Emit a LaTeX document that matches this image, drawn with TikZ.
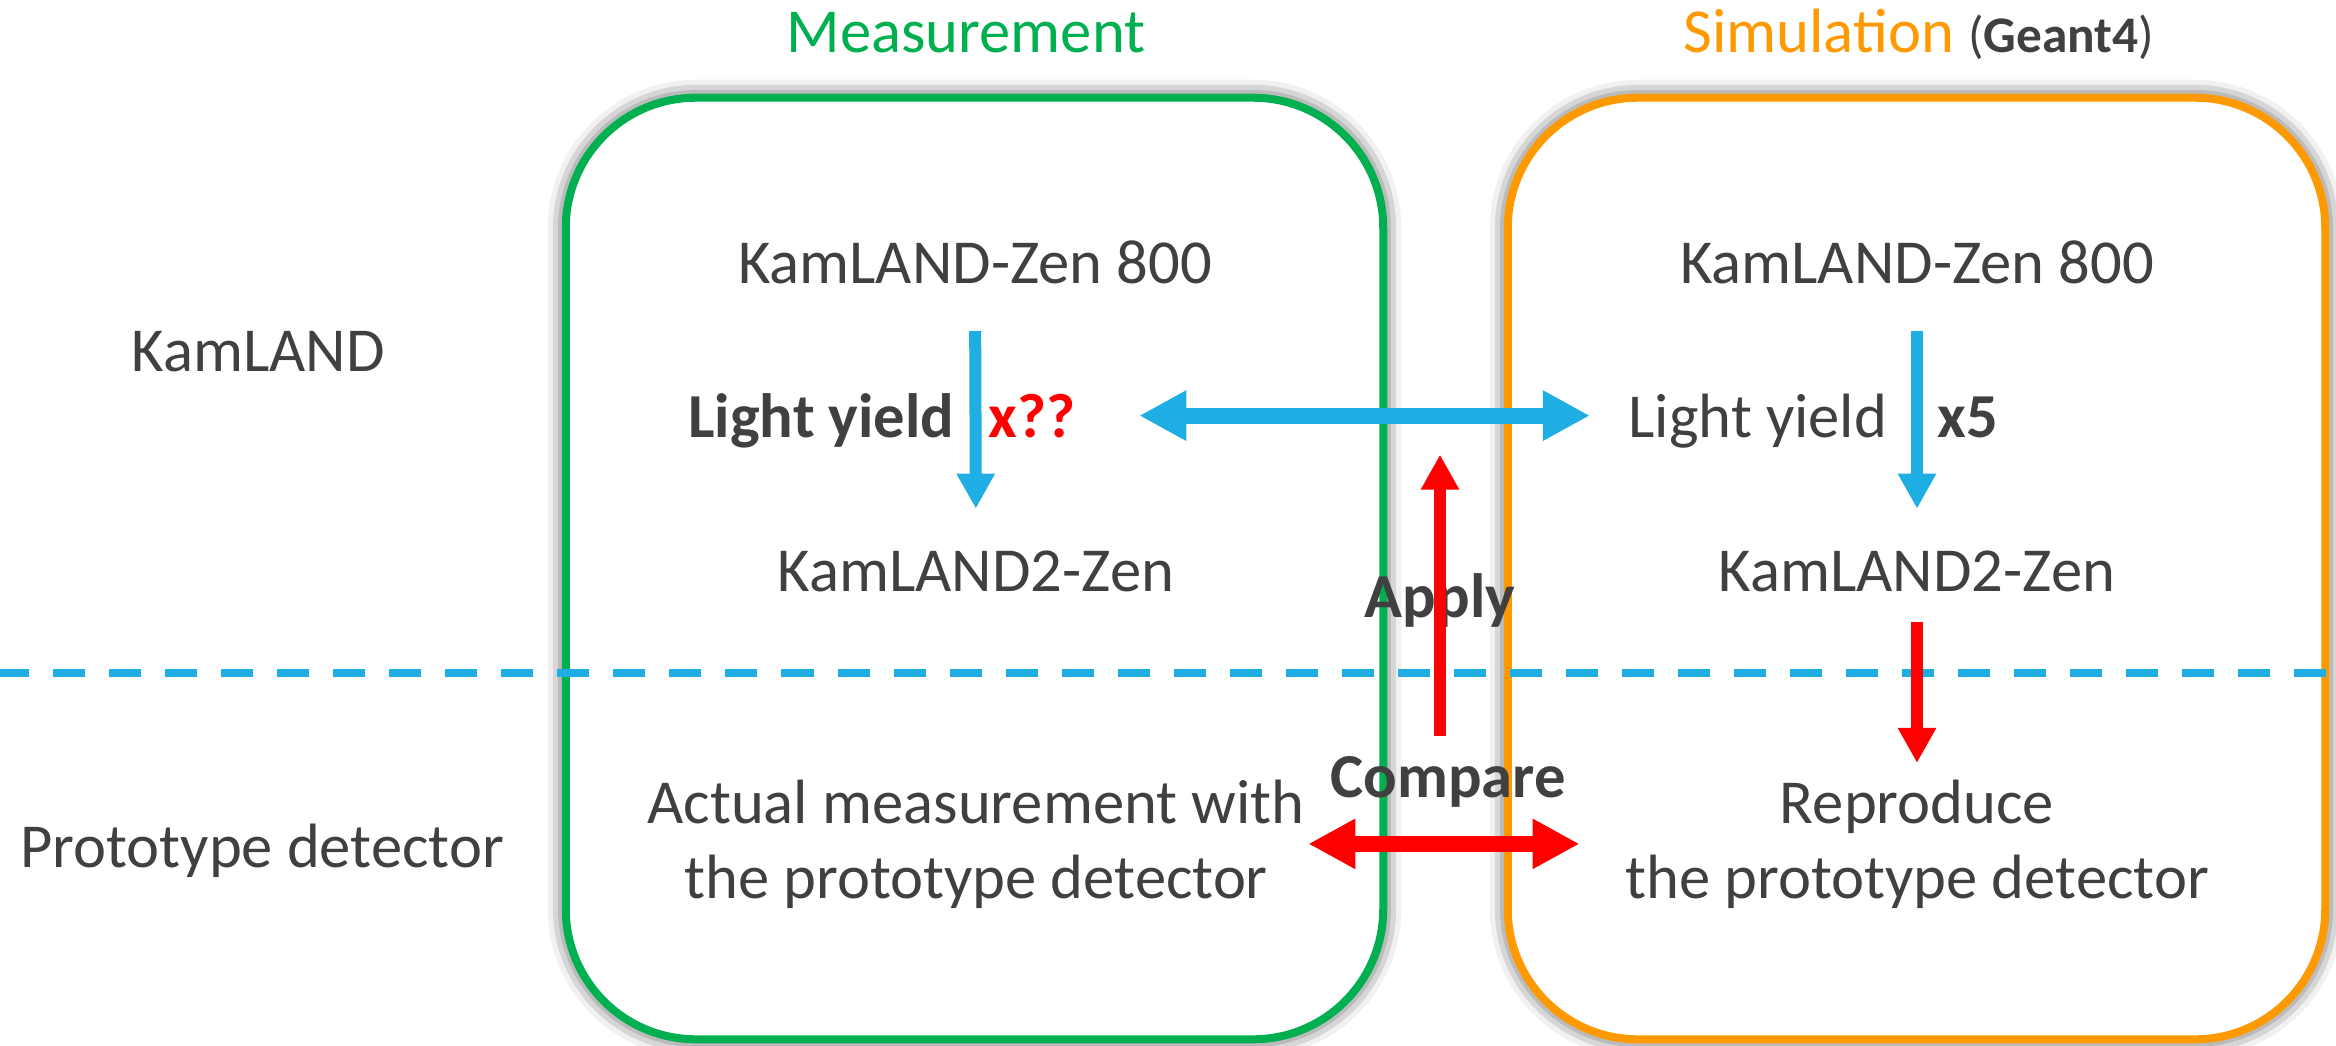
\documentclass[tikz,border=0pt]{standalone}
\usepackage{fontspec}
\setmainfont{Carlito}
\usepackage{tikz}
\usetikzlibrary{arrows.meta,shadows.blur}

\definecolor{mgreen}{RGB}{0,176,80}
\definecolor{sorange}{RGB}{255,153,0}
\definecolor{lblue}{RGB}{31,174,228}
\definecolor{tgray}{RGB}{64,64,64}

\begin{document}
\begin{tikzpicture}[x=0.01cm,y=-0.01cm,
    txt/.style={text=tgray,font=\fontsize{17.8}{21.3}\selectfont,inner sep=0pt,anchor=base,align=center},
    bold/.style={txt,font=\fontsize{17.8}{21.3}\selectfont\bfseries},
    panel/.style={draw=#1,line width=0.08cm,fill=white,rounded corners=1.3cm,
      minimum width=8.17cm,minimum height=9.41cm,inner sep=0pt,
      blur shadow={shadow xshift=0pt,shadow yshift=0pt,shadow blur radius=0.18cm,shadow opacity=85}},
    bigarrow/.style={line width=0.16cm,{Triangle[length=0.47cm,width=0.47cm]}-{Triangle[length=0.47cm,width=0.47cm]}},
    thinarrow/.style={line width=0.12cm,-{Triangle[length=0.35cm,width=0.36cm]}}]
  \useasboundingbox (0,0) rectangle (2336,1045);

  % the two panels
  \node[panel=mgreen] (meas) at (974.5,568.5) {};
  \node[panel=sorange] (simu) at (1916.5,568.5) {};
  \node[txt,text=mgreen] (measT) at (966,52) {Measurement};
  \node[txt] (simuT) at (1919,52)
  {\textcolor{sorange}{Simulation} {\fontsize{14.6}{17}\selectfont(\textbf{Geant4})}};

  \draw[lblue,line width=0.085cm,dash pattern=on 0.32cm off 0.24cm]
  (-3,673) -- (2340,673);

  % row labels
  \node[txt] (rowK) at (258,371) {KamLAND};
  \node[txt] (rowP) at (262,867) {Prototype detector};

  % measurement side
  \node[txt] (kzL) at (975,283) {KamLAND-Zen 800};
  \node[bold,anchor=base east] (lyL) at (955,437) {Light yield};
  \node[bold,anchor=base west,text=red] (facL) at (988,437) {x??};
  \node[txt] (k2L) at (976,591) {KamLAND2-Zen};
  \node[txt] (act) at (976,898) {Actual measurement with\\the prototype detector};

  % simulation side
  \node[txt] (kzR) at (1917,283) {KamLAND-Zen 800};
  \node[txt,anchor=base east] (lyR) at (1888,437) {Light yield};
  \node[bold,anchor=base west] (facR) at (1937,437) {x5};
  \node[txt] (k2R) at (1917,591) {KamLAND2-Zen};
  \node[txt] (rep) at (1917,898) {Reproduce\\the prototype detector};

  \node[bold] (apply) at (1440,617) {Apply};
  \node[bold] (cmp) at (1448,797) {Compare};
  \coordinate (apFrom) at (1440,736);

  \draw[thinarrow,lblue,shorten <=0.47cm,shorten >=0.41cm] (kzL.south) -- (k2L.north);
  \draw[thinarrow,lblue,shorten <=0.47cm,shorten >=0.41cm] (kzR.south) -- (k2R.north);
  \draw[thinarrow,red,shorten <=0.30cm,shorten >=0.16cm] (k2R.south) -- (rep.north);
  \draw[bigarrow,lblue,shorten <=0.63cm,shorten >=0.38cm]
  (facL.east) -- (facL.east -| lyR.west);
  \draw[bigarrow,red,shorten <=0.03cm,shorten >=0.45cm]
  (act.east) -- (act.east -| rep.west);
  \draw[thinarrow,red,shorten >=0.39cm] (apFrom) -- (apFrom |- facL.east);
\end{tikzpicture}
\end{document}
